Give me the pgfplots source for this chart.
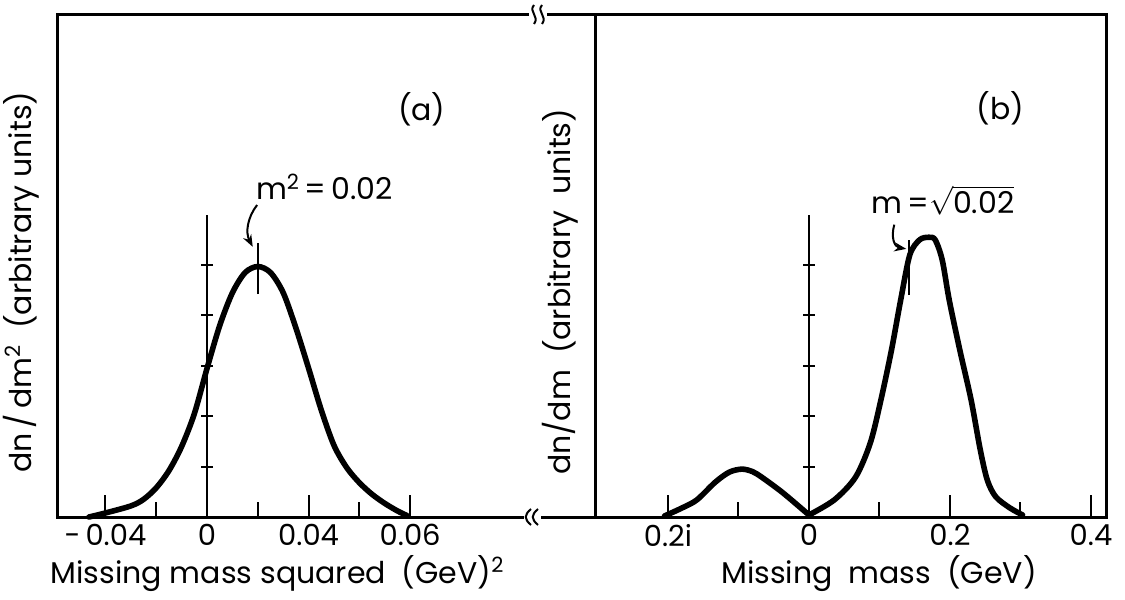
\documentclass[border=0pt]{standalone}
\usepackage{fontspec}
\setmainfont{Poppins}
\usepackage{pgfplots}
\pgfplotsset{compat=1.18}
\usetikzlibrary{arrows.meta}

\pgfplotsset{
  panel/.style={
    scale only axis, height=251.5pt, ymin=0, ymax=9.98,
    axis line style={line width=1.5pt},
    ytick=\empty, xtick pos=left, tick align=inside,
    major tick length=11pt, minor tick length=7.5pt,
    every tick/.style={black, line width=1pt},
    tick label style={font=\fontsize{14.5}{16}\selectfont},
    label style={font=\fontsize{15}{18}\selectfont},
    clip=false,
  },
  curve/.style={line width=2.8pt, smooth, line join=round, line cap=round},
  zeroaxis/.style={line width=1pt},
  cross/.style={only marks, mark=-, mark size=3pt, mark options={line width=1pt}},
}

\begin{document}
\begin{tikzpicture}
\path[use as bounding box] (-28.5pt,-41.5pt) rectangle (534pt,258.5pt);

%% (a) missing mass squared
\begin{axis}[panel, width=269pt, xmin=-0.0591, xmax=0.1528,
  xtick={-0.04,0,0.04,0.08}, xticklabels={-\,0.04,0,0.04,0.06},
  minor xtick={-0.02,0.02,0.06},
  xlabel={Missing mass squared\ \ (GeV)\textsuperscript{2}},
  xlabel style={at={(axis description cs:0.41,-0.062)}, anchor=north},
  ylabel={dn\,/\,dm\textsuperscript{2}\ \ (arbitrary\ units)},
  ylabel style={at={(axis description cs:-0.02,0.074)}, anchor=south west},
]
  \addplot[zeroaxis] coordinates {(0,0) (0,6)};
  \addplot[cross] coordinates {(0,1) (0,2) (0,3) (0,4) (0,5)};
  \addplot[curve] coordinates {
    (-0.0465,0.00) (-0.040,0.08) (-0.030,0.22) (-0.025,0.35)
    (-0.020,0.58) (-0.015,0.92) (-0.010,1.40) (-0.005,2.05)
    (0.000,2.95) (0.005,3.80) (0.010,4.45) (0.015,4.85)
    (0.020,4.97) (0.025,4.85) (0.030,4.45) (0.035,3.75)
    (0.040,2.95) (0.045,2.12) (0.050,1.42) (0.055,0.98)
    (0.060,0.68) (0.065,0.45) (0.070,0.27) (0.075,0.12) (0.0787,0.03)
  };
  \addplot[zeroaxis] coordinates {(0.02,4.42) (0.02,5.44)};
  \draw[line width=1pt, -{Stealth[length=6pt,width=4.5pt]}]
    (axis cs:0.0197,6.19) .. controls (axis cs:0.0160,5.95) and (axis cs:0.0150,5.65) .. (axis cs:0.0180,5.36);
  \node[anchor=base west, font=\fontsize{15}{18}\selectfont] at (axis cs:0.0165,6.29) {m\textsuperscript{2}\,=\,0.02};
  \node[font=\fontsize{15}{18}\selectfont] at (axis cs:0.0846,8.08) {(a)};
\end{axis}

%% (b) missing mass
\begin{axis}[panel, at={(269pt,0pt)}, width=255.5pt, xmin=-0.3035, xmax=0.4213,
  xtick={-0.2,0,0.2,0.4}, xticklabels={0.2i,0,0.2,0.4},
  minor xtick={-0.1,0.1,0.3},
  xlabel={Missing\ \ mass\ \ (GeV)},
  xlabel style={at={(axis description cs:0.556,-0.062)}, anchor=north},
  ylabel={dn/dm\ \ (arbitrary\ \ units)},
  ylabel style={at={(axis description cs:-0.0196,0.0696)}, anchor=south west},
]
  \addplot[zeroaxis] coordinates {(0,0) (0,6)};
  \addplot[cross] coordinates {(0,1) (0,2) (0,3) (0,4) (0,5)};
  \addplot[curve] coordinates {
    (-0.205,0.02) (-0.180,0.18) (-0.159,0.34) (-0.133,0.69)
    (-0.113,0.89) (-0.095,0.95) (-0.080,0.90) (-0.067,0.79)
    (-0.037,0.48) (0,0.04)
  };
  \addplot[curve] coordinates {
    (0,0.04) (0.036,0.34) (0.066,0.79) (0.087,1.47) (0.102,2.32)
    (0.117,3.31) (0.130,4.30) (0.143,5.20) (0.157,5.50) (0.170,5.55)
    (0.179,5.50) (0.189,5.10) (0.199,4.30) (0.214,3.31) (0.230,2.32)
    (0.243,1.33) (0.253,0.73) (0.265,0.40) (0.285,0.18) (0.303,0.04)
  };
  \addplot[zeroaxis] coordinates {(0.1414,4.40) (0.1414,5.50)};
  \draw[line width=1pt, -{Stealth[length=6pt,width=4.5pt]}]
    (axis cs:0.121,5.80) .. controls (axis cs:0.116,5.55) and (axis cs:0.121,5.36) .. (axis cs:0.138,5.32);
  \node[anchor=base west, font=\fontsize{15}{18}\selectfont] at (axis cs:0.0787,6.03) {m\,=$\sqrt{\hbox{0.02}}$};
  \node[font=\fontsize{15}{18}\selectfont] at (axis cs:0.272,8.10) {(b)};
\end{axis}

%% axis breaks
\fill[white] (236pt,248.5pt) rectangle (245pt,254.5pt);
\draw[line width=1pt] (238.5pt,256pt) .. controls (235.5pt,252.5pt) and (241.5pt,250.5pt) .. (238.5pt,246.5pt);
\draw[line width=1pt] (242.5pt,256pt) .. controls (239.5pt,252.5pt) and (245.5pt,250.5pt) .. (242.5pt,246.5pt);
\draw[line width=1pt] (245pt,251.5pt) -- (249pt,251.5pt);
\fill[white] (233.5pt,-3pt) rectangle (242pt,3pt);
\draw[line width=1pt] (237pt,4pt) .. controls (233.5pt,1pt) and (233.5pt,-1pt) .. (237pt,-4pt);
\draw[line width=1pt] (240.5pt,4pt) .. controls (237pt,1pt) and (237pt,-1pt) .. (240.5pt,-4pt);
\end{tikzpicture}
\end{document}
